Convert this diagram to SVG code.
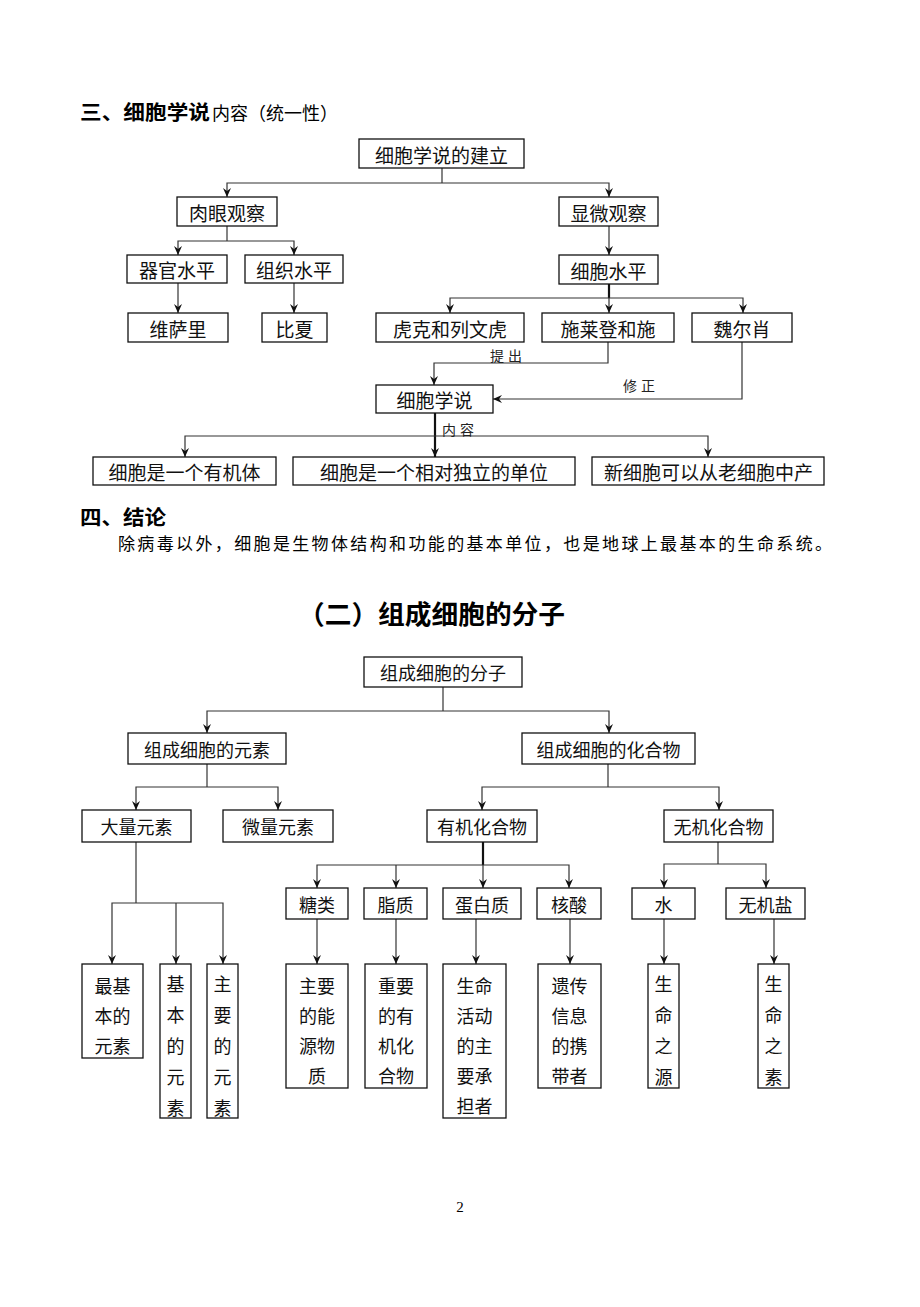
<svg xmlns="http://www.w3.org/2000/svg" width="920" height="1307" viewBox="0 0 920 1307">
<style>
.b{fill:#fff;stroke:#111;stroke-width:1.3}
.t{font-family:"Noto Sans CJK SC","Noto Sans",sans-serif;font-size:19px;fill:#111;text-anchor:middle;dominant-baseline:central}
.s{font-size:18px}
.c{fill:none;stroke:#333;stroke-width:1.2}
.k{stroke-width:2.2;stroke:#111}
.l{font-family:"Noto Sans CJK SC","Noto Sans",sans-serif;font-size:14px;fill:#222;letter-spacing:4px}
.h{font-family:"Noto Sans CJK SC",sans-serif;fill:#000}
</style>
<defs>
<marker id="a" markerUnits="userSpaceOnUse" markerWidth="12" markerHeight="12" refX="9" refY="0" viewBox="-1 -6 12 12" orient="auto">
<path d="M0,-4 L9,0 L0,4 L3,0 Z" fill="#111"/>
</marker>
</defs>
<rect width="920" height="1307" fill="#fff"/>
<g id="headings">
<text class="h" x="80" y="120" font-size="20" font-weight="bold" textLength="130" lengthAdjust="spacingAndGlyphs">三、细胞学说</text>
<text class="h" x="212" y="120" font-size="18" textLength="126" lengthAdjust="spacingAndGlyphs">内容（统一性）</text>
<text class="h" x="80" y="525" font-size="20" font-weight="bold" textLength="86" lengthAdjust="spacingAndGlyphs">四、结论</text>
<text class="h" x="118" y="550" font-size="17" textLength="714" lengthAdjust="spacing">除病毒以外，细胞是生物体结构和功能的基本单位，也是地球上最基本的生命系统。</text>
<text class="h" x="298" y="624" font-size="26" font-weight="bold" textLength="267" lengthAdjust="spacingAndGlyphs">（二）组成细胞的分子</text>
<text x="460" y="1212" font-family="Liberation Serif,serif" font-size="15" text-anchor="middle" fill="#000">2</text>
</g>
<g id="connectors">
<path class="c" d="M442,168 V183"/>
<path class="c" d="M442,183 H227 V197" marker-end="url(#a)"/>
<path class="c" d="M442,183 H609 V197" marker-end="url(#a)"/>
<path class="c" d="M227,226 V241"/>
<path class="c" d="M227,241 H178 V255" marker-end="url(#a)"/>
<path class="c" d="M227,241 H294 V255" marker-end="url(#a)"/>
<path class="c" d="M178,283 V313" marker-end="url(#a)"/>
<path class="c" d="M294,283 V313" marker-end="url(#a)"/>
<path class="c" d="M609,226 V255" marker-end="url(#a)"/>
<path class="c k" d="M609,284 V298"/>
<path class="c" d="M609,298 H450 V313" marker-end="url(#a)"/>
<path class="c" d="M609,298 H743 V313" marker-end="url(#a)"/>
<path class="c" d="M609,298 V313" marker-end="url(#a)"/>
<path class="c" d="M608,342 V363 H434 V385" marker-end="url(#a)"/>
<path class="c" d="M742,342 V399 H493" marker-end="url(#a)"/>
<path class="c k" d="M435,413 V457" marker-end="url(#a)"/>
<path class="c" d="M435,436 H185 V457" marker-end="url(#a)"/>
<path class="c" d="M435,436 H708 V457" marker-end="url(#a)"/>
<text class="l" x="490" y="361">提出</text>
<text class="l" x="623" y="391">修正</text>
<text class="l" x="442" y="435">内容</text>

<path class="c" d="M443,687 V711"/>
<path class="c" d="M443,711 H207 V733" marker-end="url(#a)"/>
<path class="c" d="M443,711 H609 V733" marker-end="url(#a)"/>
<path class="c" d="M207,764 V787"/>
<path class="c" d="M207,787 H136 V810" marker-end="url(#a)"/>
<path class="c" d="M207,787 H278 V810" marker-end="url(#a)"/>
<path class="c" d="M608,764 V787"/>
<path class="c" d="M608,787 H482 V810" marker-end="url(#a)"/>
<path class="c" d="M608,787 H719 V810" marker-end="url(#a)"/>
<path class="c" d="M136,842 V903"/>
<path class="c" d="M136,903 H112 V964" marker-end="url(#a)"/>
<path class="c" d="M136,903 H223 V964" marker-end="url(#a)"/>
<path class="c" d="M176,903 V964" marker-end="url(#a)"/>
<path class="c k" d="M483,842 V865"/>
<path class="c" d="M483,865 H317 V888" marker-end="url(#a)"/>
<path class="c" d="M483,865 H569 V888" marker-end="url(#a)"/>
<path class="c" d="M396,865 V888" marker-end="url(#a)"/>
<path class="c" d="M483,865 V888" marker-end="url(#a)"/>
<path class="c" d="M718,842 V864"/>
<path class="c" d="M718,864 H664 V888" marker-end="url(#a)"/>
<path class="c" d="M718,864 H766 V888" marker-end="url(#a)"/>
<path class="c" d="M317,919 V964" marker-end="url(#a)"/>
<path class="c" d="M396,919 V964" marker-end="url(#a)"/>
<path class="c" d="M476,919 V964" marker-end="url(#a)"/>
<path class="c" d="M570,919 V964" marker-end="url(#a)"/>
<path class="c" d="M664,919 V964" marker-end="url(#a)"/>
<path class="c" d="M774,919 V964" marker-end="url(#a)"/>
</g>

<g id="n-jianli"><rect class="b" x="359" y="139" width="165" height="29"/><text class="t" x="441.5" y="154">细胞学说的建立</text></g>
<g id="n-rouyan"><rect class="b" x="177" y="197" width="100" height="29"/><text class="t" x="227" y="212">肉眼观察</text></g>
<g id="n-xianwei"><rect class="b" x="559" y="197" width="99" height="29"/><text class="t" x="608.5" y="212">显微观察</text></g>
<g id="n-qiguan"><rect class="b" x="127" y="255" width="100" height="28"/><text class="t" x="177" y="269.5">器官水平</text></g>
<g id="n-zuzhi"><rect class="b" x="245" y="255" width="98" height="28"/><text class="t" x="294" y="269.5">组织水平</text></g>
<g id="n-xibao"><rect class="b" x="559" y="255" width="99" height="29"/><text class="t" x="608.5" y="270">细胞水平</text></g>
<g id="n-weisali"><rect class="b" x="128" y="313" width="100" height="29"/><text class="t" x="178" y="328">维萨里</text></g>
<g id="n-bixia"><rect class="b" x="262" y="313" width="65" height="29"/><text class="t" x="294.5" y="328">比夏</text></g>
<g id="n-huke"><rect class="b" x="376" y="313" width="148" height="29"/><text class="t" x="450" y="328">虎克和列文虎</text></g>
<g id="n-shilaideng"><rect class="b" x="542" y="313" width="132" height="29"/><text class="t" x="608" y="328">施莱登和施</text></g>
<g id="n-weierxiao"><rect class="b" x="692" y="313" width="100" height="29"/><text class="t" x="742" y="328">魏尔肖</text></g>
<g id="n-xueshuo"><rect class="b" x="376" y="385" width="117" height="28"/><text class="t" x="434.5" y="399.5">细胞学说</text></g>
<g id="n-youji"><rect class="b" x="93" y="457" width="183" height="28"/><text class="t" x="184.5" y="471.5">细胞是一个有机体</text></g>
<g id="n-duli"><rect class="b" x="293" y="457" width="282" height="28"/><text class="t" x="434" y="471.5">细胞是一个相对独立的单位</text></g>
<g id="n-xin"><rect class="b" x="592" y="457" width="232" height="28"/><text class="t" x="708.5" y="471.5">新细胞可以从老细胞中产</text></g>

<g id="n-fenzi"><rect class="b" x="364" y="657" width="158" height="30"/><text class="t s" x="443" y="672">组成细胞的分子</text></g>
<g id="n-yuansu"><rect class="b" x="128" y="733" width="158" height="31"/><text class="t s" x="207" y="748.5">组成细胞的元素</text></g>
<g id="n-huahewu"><rect class="b" x="522" y="733" width="173" height="31"/><text class="t s" x="608.5" y="748.5">组成细胞的化合物</text></g>
<g id="n-daliang"><rect class="b" x="82" y="810" width="109" height="32"/><text class="t s" x="136.5" y="826">大量元素</text></g>
<g id="n-weiliang"><rect class="b" x="223" y="810" width="110" height="32"/><text class="t s" x="278" y="826">微量元素</text></g>
<g id="n-youjihw"><rect class="b" x="427" y="810" width="110" height="32"/><text class="t s" x="482" y="826">有机化合物</text></g>
<g id="n-wujihw"><rect class="b" x="664" y="810" width="109" height="32"/><text class="t s" x="718.5" y="826">无机化合物</text></g>
<g id="n-tang"><rect class="b" x="286" y="888" width="62" height="31"/><text class="t s" x="317" y="903.5">糖类</text></g>
<g id="n-zhizhi"><rect class="b" x="364" y="888" width="63" height="31"/><text class="t s" x="395.5" y="903.5">脂质</text></g>
<g id="n-danbai"><rect class="b" x="443" y="888" width="78" height="31"/><text class="t s" x="482" y="903.5">蛋白质</text></g>
<g id="n-hesuan"><rect class="b" x="537" y="888" width="64" height="31"/><text class="t s" x="569" y="903.5">核酸</text></g>
<g id="n-shui"><rect class="b" x="632" y="888" width="63" height="31"/><text class="t s" x="663.5" y="903.5">水</text></g>
<g id="n-wujiyan"><rect class="b" x="726" y="888" width="79" height="31"/><text class="t s" x="765.5" y="903.5">无机盐</text></g>

<g id="n-zuijiben"><rect class="b" x="82" y="964" width="61" height="94"/><text class="t s" x="112.5" y="985">最基</text><text class="t s" x="112.5" y="1015">本的</text><text class="t s" x="112.5" y="1045">元素</text></g>
<g id="n-jiben"><rect class="b" x="160" y="964" width="31" height="154"/><text class="t s" x="175.5" y="983">基</text><text class="t s" x="175.5" y="1014">本</text><text class="t s" x="175.5" y="1045">的</text><text class="t s" x="175.5" y="1076">元</text><text class="t s" x="175.5" y="1107">素</text></g>
<g id="n-zhuyao"><rect class="b" x="207" y="964" width="31" height="154"/><text class="t s" x="222.5" y="983">主</text><text class="t s" x="222.5" y="1014">要</text><text class="t s" x="222.5" y="1045">的</text><text class="t s" x="222.5" y="1076">元</text><text class="t s" x="222.5" y="1107">素</text></g>
<g id="n-nengyuan"><rect class="b" x="286" y="964" width="62" height="124"/><text class="t s" x="317" y="985">主要</text><text class="t s" x="317" y="1015">的能</text><text class="t s" x="317" y="1045">源物</text><text class="t s" x="317" y="1075">质</text></g>
<g id="n-zhongyao"><rect class="b" x="365" y="964" width="62" height="124"/><text class="t s" x="396" y="985">重要</text><text class="t s" x="396" y="1015">的有</text><text class="t s" x="396" y="1045">机化</text><text class="t s" x="396" y="1075">合物</text></g>
<g id="n-chengdan"><rect class="b" x="443" y="964" width="63" height="154"/><text class="t s" x="474.5" y="985">生命</text><text class="t s" x="474.5" y="1015">活动</text><text class="t s" x="474.5" y="1045">的主</text><text class="t s" x="474.5" y="1075">要承</text><text class="t s" x="474.5" y="1105">担者</text></g>
<g id="n-yichuan"><rect class="b" x="538" y="964" width="63" height="124"/><text class="t s" x="569.5" y="985">遗传</text><text class="t s" x="569.5" y="1015">信息</text><text class="t s" x="569.5" y="1045">的携</text><text class="t s" x="569.5" y="1075">带者</text></g>
<g id="n-yuan"><rect class="b" x="648" y="964" width="31" height="124"/><text class="t s" x="663.5" y="983">生</text><text class="t s" x="663.5" y="1014">命</text><text class="t s" x="663.5" y="1045">之</text><text class="t s" x="663.5" y="1076">源</text></g>
<g id="n-su"><rect class="b" x="758" y="964" width="31" height="124"/><text class="t s" x="773.5" y="983">生</text><text class="t s" x="773.5" y="1014">命</text><text class="t s" x="773.5" y="1045">之</text><text class="t s" x="773.5" y="1076">素</text></g>
</svg>
